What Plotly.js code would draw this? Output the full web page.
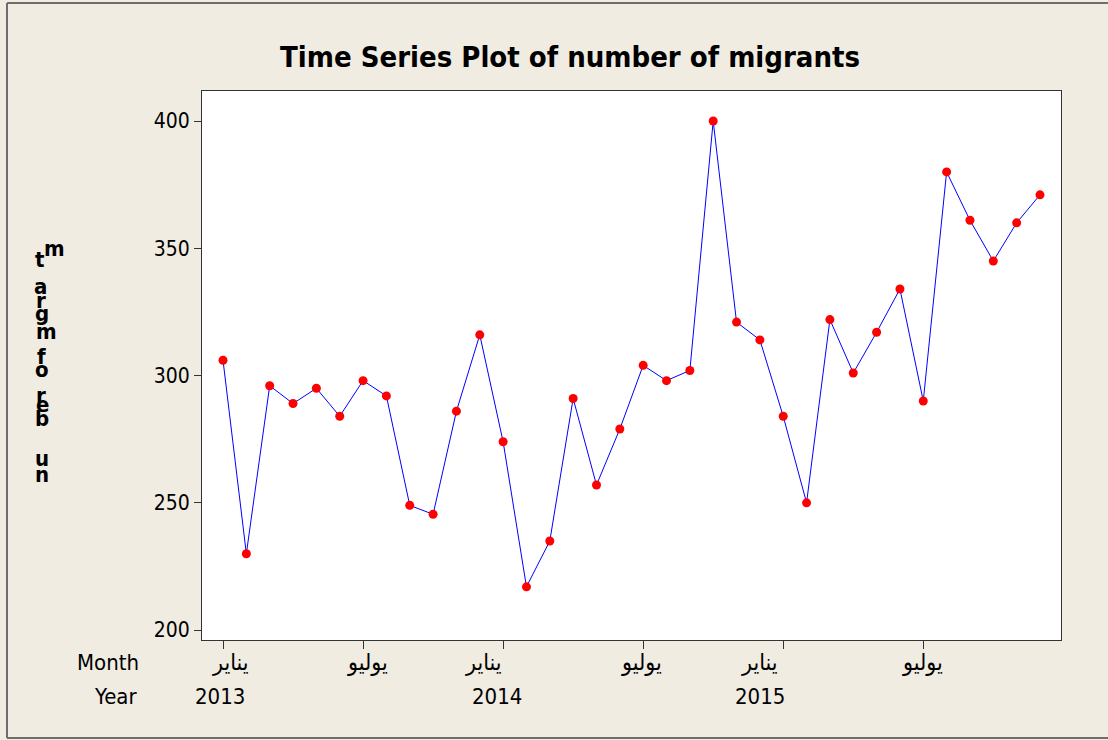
<!DOCTYPE html>
<html>
<head>
<meta charset="utf-8">
<script src="https://cdn.plot.ly/plotly-3.0.1.min.js"></script>
<style>
html,body{margin:0;padding:0;background:#f0ece2;}
#chart{width:1108px;height:740px;}
</style>
</head>
<body>
<div id="chart"></div>
<script>
// ---- data ----
const migrants = [306, 230, 296, 289, 295, 284, 298, 292, 249, 245.5, 286, 316,
                  274, 217, 235, 291, 257, 279, 304, 298, 302, 400, 321, 314,
                  284, 250, 322, 301, 317, 334, 290, 380, 361, 345, 360, 371];
const monthIndex = migrants.map((_, i) => i);
const tickIndex = [0, 6, 12, 18, 24, 30];
const tickMonth = ['يناير', 'يوليو', 'يناير', 'يوليو', 'يناير', 'يوليو'];
const yearIndex = [0, 12, 24];
const yearLabels = ['2013', '2014', '2015'];
const yTicks = [200, 250, 300, 350, 400];

// ---- layout helpers (pixel geometry) ----
const W = 1108, H = 740;
const L = 202, R = 1061, T = 91, B = 640;
const px = x => (x - L) / (R - L);
const py = y => (B - y) / (B - T);
const font = 'DejaVu Sans Condensed, DejaVu Sans, sans-serif';

const monthShift = [7, 4, -20, -2, -24, -1];
const yearShift = [-3, -6, -23];

// garbled vertical y-axis title glyphs, as the source renders them
const yGlyphs = [
  ['m', 54, 249], ['t', 40, 259], ['a', 40, 286], ['r', 41, 300], ['g', 42, 313],
  ['m', 46, 331], ['f', 41, 357], ['o', 42, 369], ['r', 41, 395], ['e', 42, 404],
  ['b', 42, 418], ['u', 42, 459], ['n', 42, 474]
];

const annotations = [];
tickIndex.forEach((v, i) => annotations.push({
  x: v, xref: 'x', y: py(662), yref: 'paper', text: tickMonth[i], showarrow: false,
  xanchor: 'center', yanchor: 'middle', xshift: monthShift[i],
  font: {family: font, size: 23, color: '#000'}
}));
yearIndex.forEach((v, i) => annotations.push({
  x: v, xref: 'x', y: py(697), yref: 'paper', text: yearLabels[i], showarrow: false,
  xanchor: 'center', yanchor: 'middle', xshift: yearShift[i],
  font: {family: font, size: 22, color: '#000'}
}));
annotations.push({x: px(141), xref: 'paper', y: py(662), yref: 'paper', text: 'Month',
  showarrow: false, xanchor: 'right', yanchor: 'middle', font: {family: font, size: 22, color: '#000'}});
annotations.push({x: px(139), xref: 'paper', y: py(697), yref: 'paper', text: 'Year',
  showarrow: false, xanchor: 'right', yanchor: 'middle', font: {family: font, size: 22, color: '#000'}});
yGlyphs.forEach(g => annotations.push({
  x: px(g[1]), xref: 'paper', y: py(g[2]), yref: 'paper', text: '<b>' + g[0] + '</b>',
  showarrow: false, xanchor: 'center', yanchor: 'middle',
  font: {family: font, size: 22, color: '#000'}
}));

const trace = {
  x: monthIndex, y: migrants, type: 'scatter', mode: 'lines+markers',
  line: {color: '#0000ff', width: 1},
  marker: {color: '#ff0000', size: 9, line: {width: 0}},
  hoverinfo: 'y'
};

const layout = {
  width: W, height: H,
  margin: {l: L, r: W - R, t: T, b: H - B, pad: 0},
  paper_bgcolor: '#f0ece2', plot_bgcolor: '#ffffff',
  showlegend: false,
  title: {text: '<b>Time Series Plot of number of migrants</b>', xref: 'container', x: 570 / W,
          xanchor: 'center', yref: 'container', y: 1 - 57 / H, yanchor: 'middle',
          font: {family: font, size: 29, color: '#000'}},
  xaxis: {range: [-0.9, 35.9], tickvals: tickIndex, ticktext: tickIndex.map(() => ''),
          ticks: 'outside', ticklen: 8, tickcolor: '#333', tickwidth: 1,
          showgrid: false, zeroline: false, showline: true, mirror: true,
          linecolor: '#333', linewidth: 1, fixedrange: true},
  yaxis: {range: [196.1, 411.8], tickvals: yTicks, ticks: 'outside', ticklen: 7,
          tickcolor: '#333', tickwidth: 1, showgrid: false, zeroline: false,
          showline: true, mirror: true, linecolor: '#333', linewidth: 1,
          tickfont: {family: font, size: 21, color: '#000'}, fixedrange: true},
  annotations: annotations,
  shapes: [
    {type: 'line', xref: 'paper', yref: 'paper', x0: px(7), x1: px(7), y0: py(3), y1: py(738),
     line: {color: '#6e6e6e', width: 2}},
    {type: 'line', xref: 'paper', yref: 'paper', x0: px(7), x1: px(1108), y0: py(3), y1: py(3),
     line: {color: '#6e6e6e', width: 2}},
    {type: 'line', xref: 'paper', yref: 'paper', x0: px(7), x1: px(1108), y0: py(738), y1: py(738),
     line: {color: '#6e6e6e', width: 2}}
  ]
};

Plotly.newPlot('chart', [trace], layout, {displayModeBar: false, staticPlot: true});
</script>
</body>
</html>
